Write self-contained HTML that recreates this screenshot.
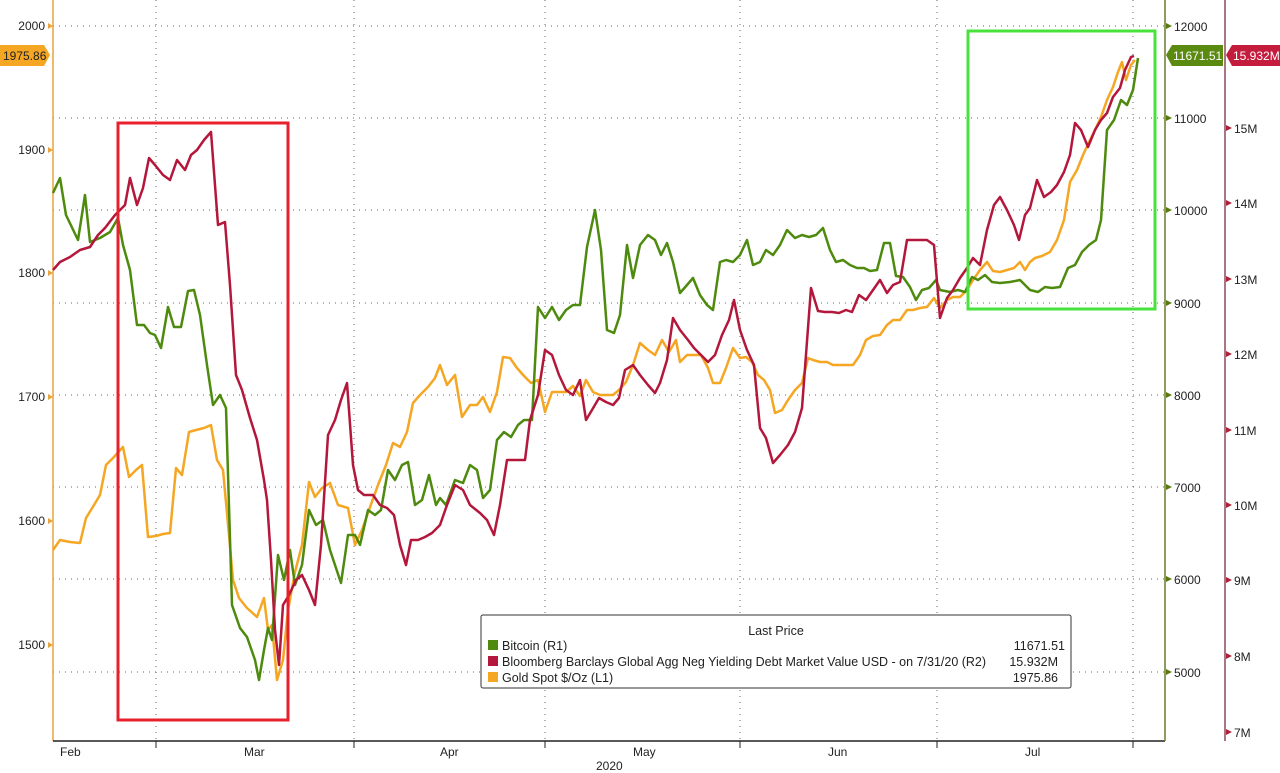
<!DOCTYPE html>
<html><head><meta charset="utf-8"><style>
body{margin:0;background:#fff;}
svg{display:block;font-family:"Liberation Sans Narrow","Liberation Sans",sans-serif;}
</style></head><body>
<svg width="1280" height="773" viewBox="0 0 1280 773" xmlns="http://www.w3.org/2000/svg">
<rect width="1280" height="773" fill="#fff"/>
<g stroke="#666" stroke-width="1" stroke-dasharray="1,5" fill="none">
<line x1="53" y1="26" x2="1165" y2="26"/>
<line x1="53" y1="118" x2="1165" y2="118"/>
<line x1="53" y1="210" x2="1165" y2="210"/>
<line x1="53" y1="303" x2="1165" y2="303"/>
<line x1="53" y1="395" x2="1165" y2="395"/>
<line x1="53" y1="487" x2="1165" y2="487"/>
<line x1="53" y1="579" x2="1165" y2="579"/>
<line x1="53" y1="672" x2="1165" y2="672"/>
<line x1="156" y1="0" x2="156" y2="741"/>
<line x1="354" y1="0" x2="354" y2="741"/>
<line x1="545" y1="0" x2="545" y2="741"/>
<line x1="740" y1="0" x2="740" y2="741"/>
<line x1="937" y1="0" x2="937" y2="741"/>
<line x1="1133" y1="0" x2="1133" y2="741"/>
</g>
<!-- axes -->
<line x1="53" y1="0" x2="53" y2="741" stroke="#e8a33d" stroke-width="1.5"/>
<line x1="53" y1="741" x2="1165" y2="741" stroke="#222" stroke-width="1.5"/>
<line x1="1165" y1="0" x2="1165" y2="741" stroke="#6b7a2a" stroke-width="1.5"/>
<line x1="1225" y1="0" x2="1225" y2="741" stroke="#8a4a5a" stroke-width="1.5"/>
<g stroke="#222" stroke-width="1">
<line x1="156" y1="741" x2="156" y2="748"/><line x1="354" y1="741" x2="354" y2="748"/><line x1="545" y1="741" x2="545" y2="748"/><line x1="740" y1="741" x2="740" y2="748"/><line x1="937" y1="741" x2="937" y2="748"/><line x1="1133" y1="741" x2="1133" y2="748"/>
</g>
<g font-size="12" fill="#222">
<text x="60" y="756">Feb</text><text x="244" y="756">Mar</text><text x="440" y="756">Apr</text><text x="633" y="756">May</text><text x="828" y="756">Jun</text><text x="1025" y="756">Jul</text>
<text x="596" y="770">2020</text>
</g>
<!-- left ticks -->
<g font-size="12" fill="#222" text-anchor="end">
<text x="45" y="30">2000</text><text x="45" y="154">1900</text><text x="45" y="277">1800</text><text x="45" y="401">1700</text><text x="45" y="525">1600</text><text x="45" y="649">1500</text>
</g>
<g fill="#e8a33d">
<path d="M48,23 l5,3 l-5,3z"/><path d="M48,147 l5,3 l-5,3z"/><path d="M48,270 l5,3 l-5,3z"/><path d="M48,394 l5,3 l-5,3z"/><path d="M48,518 l5,3 l-5,3z"/><path d="M48,642 l5,3 l-5,3z"/>
</g>
<!-- R1 ticks -->
<g fill="#5a7a10"><path d="M1166,23 l6,3 l-6,3z"/><path d="M1166,115 l6,3 l-6,3z"/><path d="M1166,207 l6,3 l-6,3z"/><path d="M1166,300 l6,3 l-6,3z"/><path d="M1166,392 l6,3 l-6,3z"/><path d="M1166,484 l6,3 l-6,3z"/><path d="M1166,576 l6,3 l-6,3z"/><path d="M1166,669 l6,3 l-6,3z"/></g>
<g font-size="12" fill="#222">
<text x="1174" y="31">12000</text><text x="1174" y="123">11000</text><text x="1174" y="215">10000</text><text x="1174" y="308">9000</text><text x="1174" y="400">8000</text><text x="1174" y="492">7000</text><text x="1174" y="584">6000</text><text x="1174" y="677">5000</text>
</g>
<!-- R2 ticks -->
<g fill="#b0203a"><path d="M1226,125 l6,3 l-6,3z"/><path d="M1226,200 l6,3 l-6,3z"/><path d="M1226,276 l6,3 l-6,3z"/><path d="M1226,351 l6,3 l-6,3z"/><path d="M1226,427 l6,3 l-6,3z"/><path d="M1226,502 l6,3 l-6,3z"/><path d="M1226,577 l6,3 l-6,3z"/><path d="M1226,653 l6,3 l-6,3z"/><path d="M1226,729 l6,3 l-6,3z"/></g>
<g font-size="12" fill="#222">
<text x="1234" y="133">15M</text><text x="1234" y="208">14M</text><text x="1234" y="284">13M</text><text x="1234" y="359">12M</text><text x="1234" y="435">11M</text><text x="1234" y="510">10M</text><text x="1234" y="585">9M</text><text x="1234" y="661">8M</text><text x="1234" y="737">7M</text>
</g>
<!-- series -->
<g fill="none" stroke-width="2.5" stroke-linejoin="round">
<polyline stroke="#f5a623" points="53,550 60,540 70,542 80,543 86,518 94,505 100,495 106,465 113,458 123,447 129,477 136,470 142,465 148,537 156,536 163,534 170,533 176,468 182,475 189,432 196,430 204,428 211,425 217,460 223,470 229,535 233,580 239,598 247,608 257,617 264,598 268,630 272,625 277,680 283,660 288,610 295,572 302,545 309,482 315,497 322,488 330,483 338,505 348,508 355,545 362,530 369,510 378,485 386,465 393,443 400,447 407,432 413,403 420,395 428,387 435,378 440,365 447,385 455,375 462,417 470,405 477,405 483,397 490,412 497,392 503,357 510,358 517,368 524,376 531,383 538,380 545,412 552,392 559,392 566,392 573,386 580,396 586,380 593,392 600,395 606,395 613,395 619,390 626,382 633,365 640,343 648,350 655,355 662,340 669,352 676,340 680,362 687,355 694,355 701,355 708,368 713,383 720,383 726,368 733,348 740,358 746,357 752,362 758,375 764,380 770,390 775,413 782,410 788,400 795,390 802,383 808,358 813,360 820,362 827,362 833,365 840,365 847,365 853,365 860,355 866,340 873,336 880,335 887,325 893,320 900,320 907,310 913,310 920,308 927,307 934,298 940,308 947,300 953,297 960,297 967,290 973,280 980,270 987,262 993,271 1000,272 1007,270 1014,268 1020,262 1025,270 1030,262 1035,258 1042,256 1050,252 1057,240 1064,220 1070,182 1077,170 1083,155 1090,140 1095,130 1101,117 1107,100 1113,87 1118,72 1122,62 1126,80 1131,65 1135,60"/>
<polyline stroke="#4e8a0e" points="53,193 60,178 66,215 78,240 85,195 90,242 100,238 110,232 118,218 123,245 130,270 137,325 144,325 150,333 155,335 161,348 168,307 174,327 181,327 188,291 194,290 200,315 207,365 213,405 220,395 226,408 232,605 240,628 247,637 255,660 259,680 264,650 268,628 272,640 278,555 284,580 290,550 295,585 302,565 309,510 316,525 323,520 330,550 341,583 348,535 355,535 360,545 368,510 375,515 381,510 388,470 395,480 402,465 408,462 415,505 422,500 429,475 436,505 440,498 446,505 455,480 463,483 470,465 477,470 483,498 490,490 497,440 504,432 511,437 518,425 524,420 532,420 538,307 545,318 552,307 559,320 566,310 573,305 580,305 587,247 595,210 601,250 607,330 614,333 620,315 627,245 633,278 640,245 648,235 655,240 661,255 667,243 673,262 680,293 687,285 693,278 700,295 707,305 713,310 720,262 726,260 733,262 740,255 747,240 753,265 760,262 766,250 773,255 780,245 787,230 795,238 802,235 809,237 816,235 823,228 830,250 836,262 843,260 850,265 857,268 864,268 870,271 877,270 884,243 890,243 896,276 903,277 910,287 916,300 922,290 929,288 936,280 940,290 950,292 958,290 965,292 972,277 978,280 985,275 992,282 1000,283 1010,282 1020,280 1030,290 1038,292 1045,287 1052,288 1060,287 1068,268 1075,265 1082,252 1089,245 1096,240 1101,220 1107,130 1114,120 1121,100 1127,105 1133,90 1138,58"/>
<polyline stroke="#b3173b" points="53,270 60,262 70,257 80,250 90,247 98,235 105,228 115,215 120,210 125,205 130,178 137,205 143,188 149,158 155,165 163,175 170,180 177,160 185,170 191,155 197,150 204,140 211,132 218,225 225,222 230,285 236,375 242,390 250,418 257,440 264,480 267,500 271,560 275,630 279,665 283,605 289,595 296,580 302,575 309,590 315,605 321,545 328,435 335,420 341,400 347,383 353,465 358,490 364,495 373,495 380,505 387,508 394,515 400,545 406,565 411,540 418,540 425,537 432,533 440,525 447,505 455,485 463,490 470,505 480,513 487,520 494,535 500,505 507,460 515,460 525,460 530,420 538,395 545,350 552,355 559,375 566,390 573,395 580,380 586,420 592,410 599,398 606,402 613,405 619,398 625,370 633,365 640,375 648,385 655,393 660,383 667,360 673,318 680,330 688,340 694,348 701,355 708,362 715,355 722,335 729,320 734,300 740,330 747,350 754,365 760,428 766,438 773,463 780,455 788,445 795,432 802,408 811,288 818,311 825,312 832,312 839,313 846,310 852,312 859,295 866,300 873,290 880,280 887,293 893,285 900,282 907,240 913,240 920,240 927,240 934,245 940,318 947,298 953,290 960,278 967,268 973,258 980,265 987,230 994,205 1000,197 1007,210 1014,225 1019,240 1025,215 1030,208 1037,180 1044,197 1051,192 1057,185 1064,172 1070,155 1075,123 1081,130 1088,147 1095,130 1101,120 1107,113 1113,97 1120,88 1125,70 1131,57 1134,56"/>
</g>
<!-- highlight boxes -->
<rect x="118" y="123" width="170" height="597" fill="none" stroke="#e8202e" stroke-width="3"/>
<rect x="968" y="31" width="187" height="278" fill="none" stroke="#48e23c" stroke-width="3"/>
<!-- value tags -->
<path d="M0,45 H44 L50,55 L44,66 H0z" fill="#f5a623"/>
<text x="3" y="60" font-size="12" fill="#222">1975.86</text>
<path d="M1166,55 L1172,45 H1223 V66 H1172z" fill="#5a8a10"/>
<text x="1173" y="60" font-size="12" fill="#fff">11671.51</text>
<path d="M1226,55 L1232,45 H1280 V66 H1232z" fill="#c41c3c"/>
<text x="1233" y="60" font-size="12" fill="#fff">15.932M</text>
<!-- legend -->
<rect x="481" y="615" width="590" height="73" rx="2" fill="#fff" stroke="#333" stroke-width="1"/>
<text x="776" y="635" font-size="12.5" fill="#222" text-anchor="middle">Last Price</text>
<rect x="488" y="640" width="10" height="10" fill="#4e8a0e"/>
<rect x="488" y="656" width="10" height="10" fill="#b3173b"/>
<rect x="488" y="672" width="10" height="10" fill="#f5a623"/>
<g font-size="12.5" fill="#222">
<text x="502" y="650">Bitcoin  (R1)</text>
<text x="502" y="666">Bloomberg Barclays Global Agg Neg Yielding Debt Market Value USD -  on 7/31/20  (R2)</text>
<text x="502" y="682">Gold Spot $/Oz  (L1)</text>
</g>
<g font-size="12.5" fill="#222" text-anchor="end">
<text x="1065" y="650">11671.51</text><text x="1058" y="666">15.932M</text><text x="1058" y="682">1975.86</text>
</g>
</svg>
</body></html>
